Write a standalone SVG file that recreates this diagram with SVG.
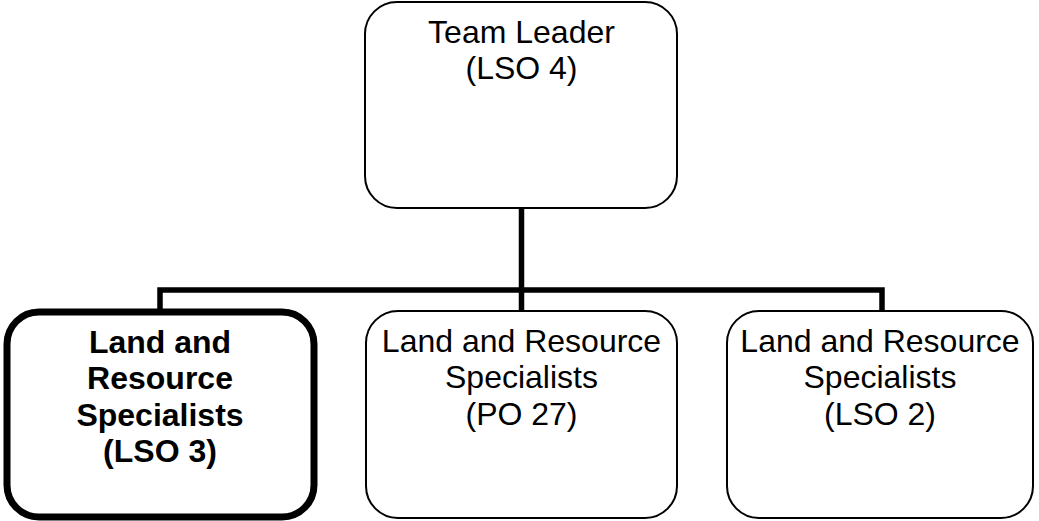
<svg xmlns="http://www.w3.org/2000/svg" width="1039" height="521" viewBox="0 0 1039 521">
<style>
.box{fill:#fff;stroke:#000;stroke-width:2}
.bold{fill:#fff;stroke:#000;stroke-width:7}
.t{font-family:"Liberation Sans",Arial,sans-serif;font-size:32px;text-anchor:middle;fill:#000}
.tb{font-family:"Liberation Sans",Arial,sans-serif;font-size:32px;font-weight:bold;text-anchor:middle;fill:#000}
.c{fill:none;stroke:#000;stroke-width:5.5}
</style>
<rect width="1039" height="521" fill="#fff"/>
<g id="connectors">
<path class="c" d="M521.5 208 V290"/>
<path class="c" d="M160 311 V290 H882 V311"/>
<path class="c" d="M521.5 290 V311"/>
</g>
<g id="team-leader">
<rect class="box" x="365" y="2" width="312" height="206" rx="32"/>
<text class="t" x="521.5" y="43">Team Leader</text>
<text class="t" x="521.5" y="79">(LSO 4)</text>
</g>
<g id="lso3">
<rect class="bold" x="7" y="312" width="307" height="205" rx="32"/>
<text class="tb" x="160" y="353">Land and</text>
<text class="tb" x="160" y="389">Resource</text>
<text class="tb" x="160" y="426">Specialists</text>
<text class="tb" x="160" y="462">(LSO 3)</text>
</g>
<g id="po27">
<rect class="box" x="366" y="311" width="311" height="207" rx="32"/>
<text class="t" x="521.5" y="352">Land and Resource</text>
<text class="t" x="521.5" y="388">Specialists</text>
<text class="t" x="521.5" y="425">(PO 27)</text>
</g>
<g id="lso2">
<rect class="box" x="727" y="311" width="306" height="207" rx="32"/>
<text class="t" x="880" y="352">Land and Resource</text>
<text class="t" x="880" y="388">Specialists</text>
<text class="t" x="880" y="425">(LSO 2)</text>
</g>
</svg>
